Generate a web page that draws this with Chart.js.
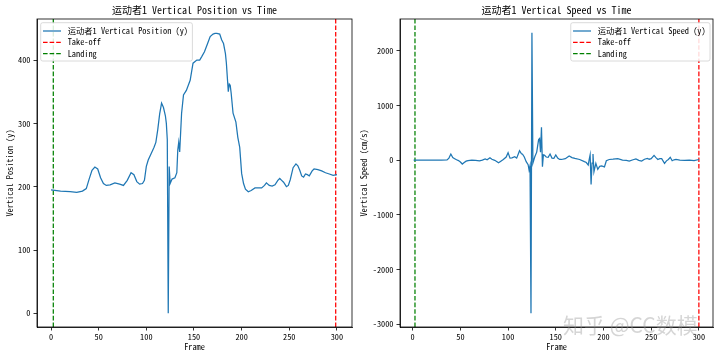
<!DOCTYPE html>
<html><head><meta charset="utf-8">
<script src="https://cdn.jsdelivr.net/npm/chart.js@4"></script>
<style>
html,body{margin:0;padding:0;background:#fff;width:720px;height:357px;overflow:hidden}
#wrap{position:relative;width:720px;height:357px;background:#fff}
canvas{position:absolute;top:0}
#c1{left:0}
#c2{left:360px}
#wm{position:absolute;left:563px;top:309px;font:21px "Noto Sans CJK SC";color:rgba(150,150,150,0.40);white-space:nowrap;pointer-events:none}
</style></head><body>
<div id="wrap">
<canvas id="c1" width="360" height="357"></canvas>
<canvas id="c2" width="360" height="357"></canvas>
<div id="wm">知乎 @CC数模</div>
</div>
<script>
// ---- data ----
const posFrames = [0,10,20,27,33,37,40,43,46,49,52,55,58,62,67,72,76,80,84,87,90,93,96,98,100,102,105,108,110,112,114,116,118,120,121,122,123,124,125,127,130,132,133,134,135,137,139,142,146,149,153,156,158,161,164,167,170,172,174,177,179,181,183,184,186,187,188,189,191,194,196,198,200,202,204,207,210,214,221,224,226,229,232,235,238,240,242,244,247,249,251,254,257,259,261,263,265,267,269,271,274,276,280,284,288,292,296,300];
const posValues = [195,193,192,191,193,197,212,226,231,228,214,205,202,203,206,204,202,210,222,219,208,204,205,210,232,242,252,262,270,290,315,332,325,312,300,274,0,232,205,212,214,222,258,270,255,316,345,352,368,395,400,400,405,413,425,437,441,442,442,441,432,426,410,395,350,362,360,348,316,302,278,262,221,205,196,192,194,198,198,202,206,202,201,203,210,213,210,207,200,202,211,230,236,233,226,217,215,220,219,217,225,228,227,225,222,220,218,219];

const spdFrames = [1,10,20,30,36,38,40,42,44,46,48,50,52,54,56,58,62,66,70,73,76,78,81,83,86,88,90,92,95,98,100,102,104,107,109,111,112,114,115,117,119,121,122,123,124,125,126,128,130,132,133,134,135,136,137,138,140,142,144,146,148,150,152,154,156,160,164,167,170,175,180,182,184,185,186,187,188,189,190,192,194,196,198,201,203,206,210,215,220,224,227,231,234,237,240,243,246,248,250,253,255,257,259,261,264,266,268,270,272,274,276,280,285,290,295,300];
const spdValues = [5,5,5,5,8,40,115,50,30,10,-5,-30,-68,-40,-15,-5,5,0,-10,5,24,10,48,20,0,-20,-44,-20,15,60,140,40,45,66,40,130,176,120,115,60,-25,-80,-177,-100,-2797,2333,-50,66,150,380,400,150,603,-117,100,97,60,55,115,40,36,97,40,15,15,30,79,50,36,15,-25,-40,-86,15,100,-440,-50,115,-208,-55,-165,-110,-104,-120,-7,15,20,29,5,0,-13,10,24,0,-13,20,36,20,30,91,50,15,30,30,-55,-10,15,55,-7,10,15,5,0,5,-5,15];

const xTicks = [0,50,100,150,200,250,300];
const posTicks = [0,100,200,300,400];
const spdTicks = [-3000,-2000,-1000,0,1000,2000];
const posLanding = 2.4, posTakeoff = 298.7;
const spdLanding = 2.4, spdTakeoff = 300;

const posTitle = '运动者1 Vertical Position vs Time';
const spdTitle = '运动者1 Vertical Speed vs Time';
const posLabel = '运动者1 Vertical Position (y)';
const spdLabel = '运动者1 Vertical Speed (y)';
const posYTitle = 'Vertical Position (y)';
const spdYTitle = 'Vertical Speed (cm/s)';
const xTitle = 'Frame';

// ---- rendering ----
const FONT = '"Noto Sans Mono CJK SC", "Noto Sans CJK SC", "DejaVu Sans Mono", monospace';
const TICKFONT = {family: FONT, size: 8.3, lineHeight: 1.0};

function decoPlugin(title, legendAnchor) {
  return {
    id: 'deco',
    afterDraw(chart) {
      const ctx = chart.ctx, a = chart.chartArea;
      ctx.save();
      // full frame
      ctx.strokeStyle = '#000'; ctx.lineWidth = 0.8;
      ctx.strokeRect(a.left, a.top, a.right - a.left, a.bottom - a.top);
      // title
      ctx.fillStyle = '#000';
      ctx.font = '10px ' + FONT;
      ctx.textAlign = 'center'; ctx.textBaseline = 'middle';
      ctx.fillText(title, (a.left + a.right) / 2, 10.7);
      // legend
      ctx.font = '8.3px ' + FONT;
      const ds = chart.data.datasets;
      let tw = 0;
      ds.forEach(d => { tw = Math.max(tw, ctx.measureText(d.label).width); });
      const w = 2.3 + 18 + 6.7 + tw + 4.4;
      const h = 38.3;
      const x0 = legendAnchor === 'left' ? a.left + 3.7 : a.right - 3 - w;
      const y0 = a.top + 3.7;
      ctx.beginPath();
      ctx.roundRect(x0, y0, w, h, 2);
      ctx.fillStyle = 'rgba(255,255,255,0.85)';
      ctx.fill();
      ctx.strokeStyle = '#d0d0d0'; ctx.lineWidth = 0.8;
      ctx.stroke();
      ds.forEach((d, i) => {
        const yy = y0 + 8.3 + i * 11.3;
        ctx.beginPath();
        ctx.setLineDash(d.borderDash || []);
        ctx.strokeStyle = d.borderColor; ctx.lineWidth = d.borderWidth;
        ctx.moveTo(x0 + 2.3, yy); ctx.lineTo(x0 + 20.3, yy);
        ctx.stroke();
        ctx.setLineDash([]);
        ctx.fillStyle = '#000';
        ctx.textAlign = 'left'; ctx.textBaseline = 'middle';
        ctx.fillText(d.label, x0 + 27, yy);
      });
      ctx.restore();
    }
  };
}

function makeChart(id, o) {
  const pts = o.frames.map((f, i) => ({x: f, y: o.values[i]}));
  const vline = (x, label, color) => ({
    label, data: [{x, y: o.yMin}, {x, y: o.yMax}],
    borderColor: color, borderWidth: 1.25, borderDash: [4.6, 2], pointRadius: 0, tension: 0
  });
  return new Chart(document.getElementById(id), {
    type: 'line',
    data: {
      datasets: [
        {label: o.label, data: pts, borderColor: '#1f77b4', borderWidth: 1.25, pointRadius: 0, tension: 0},
        vline(o.takeoff, 'Take-off', '#ff0000'),
        vline(o.landing, 'Landing', '#008000')
      ]
    },
    options: {
      responsive: false, animation: false, devicePixelRatio: 1,
      layout: {padding: {left: 0, right: o.padRight, top: 19, bottom: 0}},
      plugins: {legend: {display: false}, title: {display: false}, tooltip: {enabled: false}},
      scales: {
        x: {
          type: 'linear', min: o.xMin, max: o.xMax,
          afterBuildTicks: s => { s.ticks = xTicks.map(v => ({value: v})); },
          afterFit: s => { s.height = 30; },
          ticks: {font: TICKFONT, color: '#000', padding: 2.5, maxRotation: 0, autoSkip: false},
          grid: {drawOnChartArea: false, drawTicks: true, tickLength: 3.5, color: '#000', tickWidth: 0.8},
          border: {display: true, color: '#000', width: 0.8},
          title: {display: true, text: xTitle, font: {family: FONT, size: 8.3, lineHeight: 1.0}, color: '#000', padding: {top: 0, bottom: 6}}
        },
        y: {
          type: 'linear', min: o.yMin, max: o.yMax,
          afterBuildTicks: s => { s.ticks = o.yTicks.map(v => ({value: v})); },
          afterFit: s => { s.width = o.yWidth; },
          ticks: {font: TICKFONT, color: '#000', padding: 3, callback: v => String(v)},
          grid: {drawOnChartArea: false, drawTicks: true, tickLength: 3.5, color: '#000', tickWidth: 0.8},
          border: {display: true, color: '#000', width: 0.8},
          title: {display: true, text: o.yTitle, font: {family: FONT, size: 8.3, lineHeight: 1.0}, color: '#000', padding: {top: o.yTitlePad, bottom: 0}}
        }
      }
    },
    plugins: [decoPlugin(o.title, o.legendAnchor)]
  });
}

makeChart('c1', {
  frames: posFrames, values: posValues, label: posLabel, title: posTitle, yTitle: posYTitle,
  landing: posLanding, takeoff: posTakeoff, yTicks: posTicks,
  xMin: -14.7, xMax: 315.8, yMin: -21.6, yMax: 464.8,
  yWidth: 37, padRight: 8, yTitlePad: 5.8, legendAnchor: 'left'
});
makeChart('c2', {
  frames: spdFrames, values: spdValues, label: spdLabel, title: spdTitle, yTitle: spdYTitle,
  landing: spdLanding, takeoff: spdTakeoff, yTicks: spdTicks,
  xMin: -13.3, xMax: 314.8, yMin: -3049, yMax: 2585,
  yWidth: 40, padRight: 7, yTitlePad: 0, legendAnchor: 'right'
});
</script>
</body></html>
